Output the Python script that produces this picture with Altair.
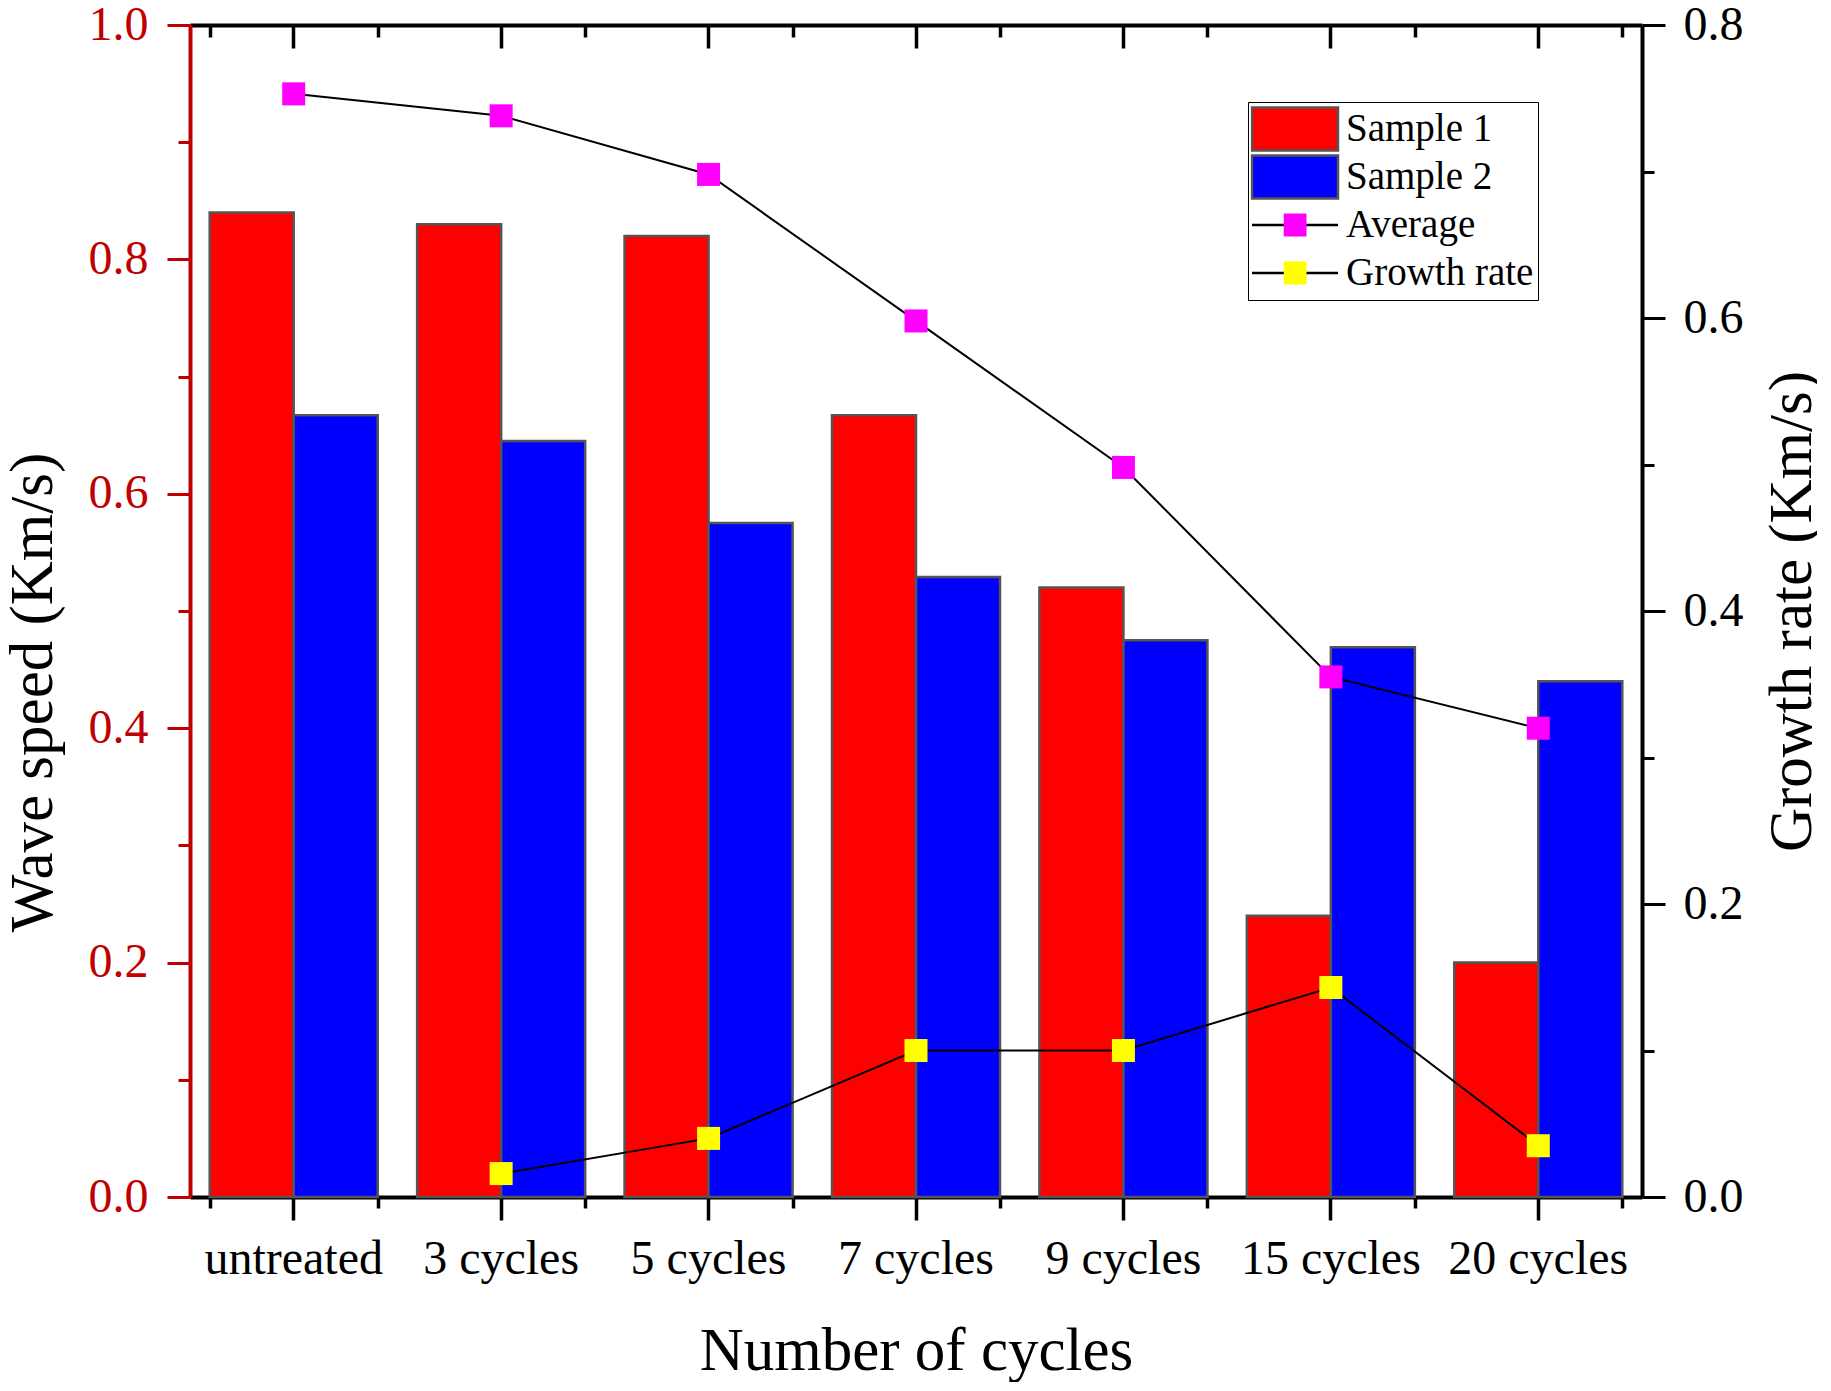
import altair as alt
import pandas as pd

# ---------------- data ----------------
categories = ["untreated", "3 cycles", "5 cycles", "7 cycles", "9 cycles", "15 cycles", "20 cycles"]
sample1 = [0.84, 0.83, 0.82, 0.667, 0.52, 0.24, 0.20]
sample2 = [0.667, 0.645, 0.575, 0.529, 0.475, 0.469, 0.44]
average = [0.753, 0.738, 0.698, 0.598, 0.498, 0.355, 0.320]
growth_categories = ["3 cycles", "5 cycles", "7 cycles", "9 cycles", "15 cycles", "20 cycles"]
growth_rate = [0.016, 0.040, 0.100, 0.100, 0.143, 0.035]

left_ticks = [0.0, 0.1, 0.2, 0.3, 0.4, 0.5, 0.6, 0.7, 0.8, 0.9, 1.0]
right_ticks = [0.0, 0.1, 0.2, 0.3, 0.4, 0.5, 0.6, 0.7, 0.8]
bar_series = ["Sample 1", "Sample 2"]
line_series = ["Average", "Growth rate"]
legend_names = ["Sample 1", "Sample 2", "Average", "Growth rate"]

FONT = "Liberation Serif"
AXRED = "#C00000"
RECT = "M-1,-0.5H1V0.5H-1Z"
LINE = "M-1,0H1"
TICKFS = 48
TITLEFS = 61

bars_df = pd.DataFrame({
    "cat": categories * 2,
    "series": [bar_series[0]] * len(categories) + [bar_series[1]] * len(categories),
    "value": sample1 + sample2,
})
avg_df = pd.DataFrame({"cat": categories, "value": average})
gr_df = pd.DataFrame({"cat": growth_categories, "value": growth_rate})
frame_df = pd.DataFrame({"series": legend_names})
barleg_df = pd.DataFrame({"series": bar_series})
lineleg_df = pd.DataFrame({"series": line_series})

xscale = alt.Scale(domain=categories, paddingInner=0.19, paddingOuter=0.095)

major_minor = {"condition": {"test": "round(datum.value*10) % 2 == 0", "value": 23}, "value": 12}
major_label = "round(datum.value*10) % 2 == 0 ? format(datum.value, '.1f') : ''"

# ---------------- bars (left axis, bottom axis) ----------------
bars = alt.Chart(bars_df).mark_bar(stroke="#555555", strokeWidth=2.5).encode(
    x=alt.X("cat:N", scale=xscale, axis=alt.Axis(
        orient="bottom", title="Number of cycles", tickSize=23, tickWidth=3.5,
        domainWidth=4, labelAngle=0, labelPadding=53, labelBaseline="alphabetic",
        labelFontSize=TICKFS, labelLimit=400, titleFontSize=TITLEFS, titleY=172,
        titleBaseline="alphabetic")),
    xOffset=alt.XOffset("series:N", scale=alt.Scale(domain=bar_series, paddingInner=0, paddingOuter=0)),
    y=alt.Y("value:Q", scale=alt.Scale(domain=[0, 1]), axis=alt.Axis(
        orient="left", values=left_ticks, tickSize=major_minor, labelExpr=major_label,
        tickWidth=3, domainWidth=4, domainColor=AXRED, tickColor=AXRED, labelColor=AXRED,
        labelFontSize=TICKFS, labelPadding=19, labelOverlap=False,
        title="Wave speed (Km/s)", titleFontSize=TITLEFS, titleAngle=270, titleX=-139,
        titleY=667, titleAlign="center", titleBaseline="alphabetic")),
    fill=alt.Fill("series:N", scale=alt.Scale(domain=bar_series, range=["#FF0000", "#0000FF"]), legend=None),
)

# ---------------- lines (right axis, top axis) ----------------
avg_line = alt.Chart(avg_df).mark_line(color="black", strokeWidth=2).encode(
    x=alt.X("cat:N", scale=xscale, axis=alt.Axis(
        orient="top", title=None, labels=False, tickSize={"expr": "-23"},
        tickWidth=3.5, domainWidth=4)),
    y=alt.Y("value:Q", scale=alt.Scale(domain=[0, 0.8]), axis=alt.Axis(
        orient="right", values=right_ticks, tickSize=major_minor, labelExpr=major_label,
        tickWidth=3, domainWidth=4, labelFontSize=TICKFS, labelPadding=18, labelOverlap=False,
        title="Growth rate (Km/s)", titleFontSize=TITLEFS, titleAngle=270, titleX=168,
        titleY=586, titleAlign="center", titleBaseline="alphabetic")),
)

gr_line = alt.Chart(gr_df).mark_line(color="black", strokeWidth=2).encode(
    x=alt.X("cat:N", scale=xscale, axis=alt.Axis(
        orient="bottom", title=None, labels=False, domain=False, tickBand="extent",
        tickSize=11, tickWidth=3.5)),
    y=alt.Y("value:Q", scale=alt.Scale(domain=[0, 0.8]), axis=None),
)

avg_pts = alt.Chart(avg_df).mark_square(size=529, color="#FF00FF", opacity=1).encode(
    x=alt.X("cat:N", scale=xscale, axis=None),
    y=alt.Y("value:Q", scale=alt.Scale(domain=[0, 0.8]), axis=None),
)

gr_pts = alt.Chart(gr_df).mark_square(size=529, color="#FFFF00", opacity=1).encode(
    x=alt.X("cat:N", scale=xscale, axis=alt.Axis(
        orient="top", title=None, labels=False, domain=False, tickBand="extent",
        tickSize={"expr": "-12"}, tickWidth=3.5)),
    y=alt.Y("value:Q", scale=alt.Scale(domain=[0, 0.8]), axis=None),
)

# ---------------- legend (frame with labels + overlaid symbol legends) ----------------
common = dict(title=None, orient="none", direction="vertical", clipHeight=46, rowPadding=2,
              symbolOffset=0)

frame_leg = alt.Legend(
    legendX=1058, legendY=77, padding=4, strokeColor="black", fillColor="white",
    labelOffset=8, symbolSize=7396, symbolStrokeWidth=0, symbolType=RECT,
    labelFont=FONT, labelFontSize=39, labelLimit=400, labelColor="black", **common)
frame = alt.Chart(frame_df).transform_filter("false").mark_point(
    filled=True, shape=RECT, size=7396, strokeWidth=0, opacity=1).encode(
    fill=alt.Fill("series:N", scale=alt.Scale(
        domain=legend_names, range=["transparent"] * 4), legend=frame_leg),
)

bar_leg = alt.Legend(
    legendX=1060.5, legendY=81, padding=0, symbolSize=7396, symbolType=RECT,
    symbolStrokeColor="#555555", symbolStrokeWidth=2.5,
    labelFontSize=1, labelOpacity=0, labelExpr="''", **common)
bar_symbols = alt.Chart(barleg_df).transform_filter("false").mark_point(
    filled=True, shape=RECT, size=7396, stroke="#555555", strokeWidth=2.5, opacity=1).encode(
    fill=alt.Fill("series:N", scale=alt.Scale(
        domain=bar_series, range=["#FF0000", "#0000FF"]), legend=bar_leg),
)

line_leg = alt.Legend(
    legendX=1060.5, legendY=177, padding=0, symbolSize=7396, symbolType=LINE,
    symbolStrokeWidth=2.5, labelFontSize=1, labelOpacity=0, labelExpr="''", **common)
line_symbols = alt.Chart(lineleg_df).transform_filter("false").mark_point(
    filled=False, shape=LINE, size=7396, strokeWidth=2.5, opacity=1).encode(
    stroke=alt.Stroke("series:N", scale=alt.Scale(
        domain=line_series, range=["#000000", "#000000"]), legend=line_leg),
)

sq_leg = alt.Legend(
    legendX=1093.5, legendY=177, padding=0, symbolSize=529, symbolType="square",
    symbolStrokeWidth=0, labelFontSize=1, labelOpacity=0, labelExpr="''", **common)
sq_symbols = alt.Chart(lineleg_df).transform_filter("false").mark_point(
    filled=True, shape="square", size=529, strokeWidth=0, opacity=1).encode(
    fill=alt.Fill("series:N", scale=alt.Scale(
        domain=line_series, range=["#FF00FF", "#FFFF00"]), legend=sq_leg),
)

chart = alt.layer(
    bars, avg_line, gr_line, avg_pts, gr_pts, frame, bar_symbols, line_symbols, sq_symbols
).resolve_scale(
    y="independent", fill="independent", stroke="independent"
).resolve_axis(
    x="independent", y="independent"
).properties(
    width=1452, height=1172,
    padding={"left": 182, "top": 17, "right": 175, "bottom": 185},
    autosize=alt.AutoSizeParams(type="none"),
    background="white",
).configure_view(
    strokeWidth=0
).configure_axis(
    grid=False, labelFont=FONT, titleFont=FONT, titleFontWeight="normal",
    labelColor="black", titleColor="black", tickColor="black", domainColor="black",
).configure_legend(
    labelFont=FONT
)

chart.save("out.html", embed_options={"renderer": "svg", "actions": False})
